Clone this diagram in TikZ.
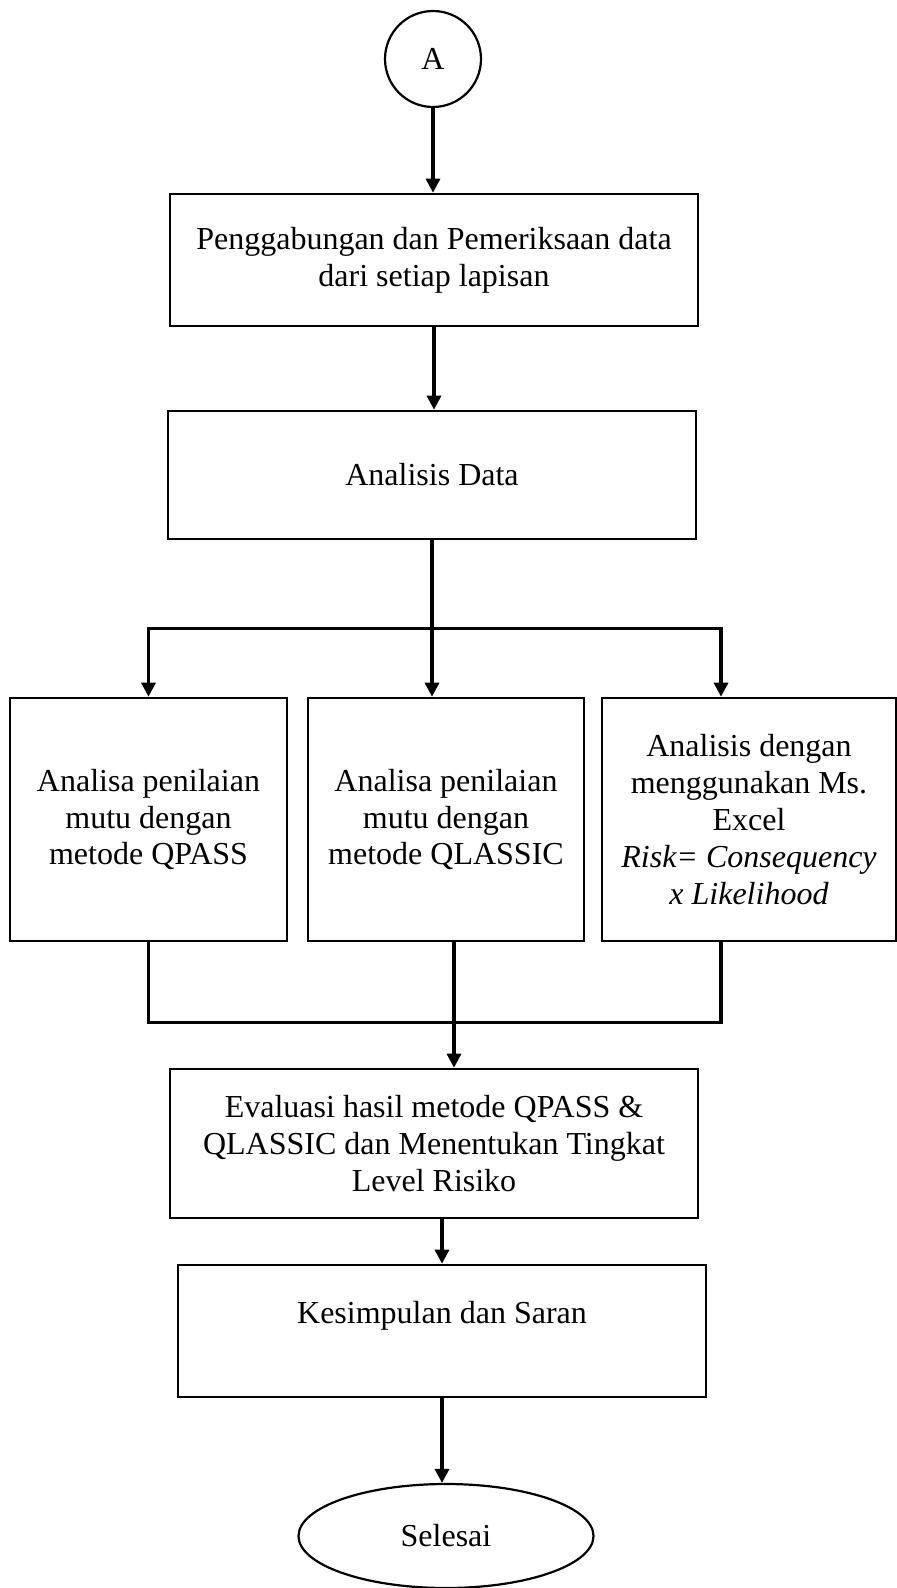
\documentclass[tikz,border=0pt]{standalone}
\usepackage{fontspec}
\setmainfont{Liberation Serif}
\usetikzlibrary{arrows.meta,positioning,calc,shapes.geometric}
\tikzset{
  flowbox/.style={draw,line width=1.3pt,rectangle,align=center,inner sep=0pt,
    font=\fontsize{16}{18.4}\selectfont},
  flowend/.style={draw,line width=1.1pt,ellipse,inner sep=0pt,
    font=\fontsize{16}{18.4}\selectfont},
  flowarr/.style={line width=1.6pt,-{Triangle[length=7pt,width=7pt]}},
  flowline/.style={line width=1.6pt}
}
\begin{document}
\begin{tikzpicture}[x=0.5pt,y=-0.5pt]
  \useasboundingbox (0,0) rectangle (897,1588);
  % connector
  \node[flowend,circle,minimum size=48pt] (A) at (433,59) {A};
  % top part
  \node[flowbox,minimum width=264pt,minimum height=66pt] (gabung) at (434,260)
      {Penggabungan dan Pemeriksaan data\\dari setiap lapisan};
  \node[flowbox,minimum width=264pt,minimum height=64pt] (analisis) at (432,475)
      {Analisis Data};
  % three methods
  \node[flowbox,minimum width=138.5pt,minimum height=121.5pt] (qpass) at (148.5,819.5)
      {Analisa penilaian\\mutu dengan\\metode QPASS};
  \node[flowbox,minimum width=138pt,minimum height=121.5pt] (qlassic) at (446,819.5)
      {Analisa penilaian\\mutu dengan\\metode QLASSIC};
  \node[flowbox,minimum width=147pt,minimum height=121.5pt] (excel) at (749,819.5)
      {Analisis dengan\\menggunakan Ms.\\Excel\\\textit{Risk= Consequency}\\\textit{x Likelihood}};
  % bottom part
  \node[flowbox,minimum width=264pt,minimum height=74.5pt] (evaluasi) at (434,1143.5)
      {Evaluasi hasil metode QPASS \&\\QLASSIC dan Menentukan Tingkat\\Level Risiko};
  \node[flowbox,minimum width=264pt,minimum height=66pt] (simpul) at (442,1331)
      {Kesimpulan dan Saran\\~};
  \node[flowend,minimum width=147.5pt,minimum height=52pt] (selesai) at (446,1536)
      {Selesai};
  % arrows
  \draw[flowarr] (A.south) -- (A.south |- gabung.north);
  \draw[flowarr] (gabung.south) -- (gabung.south |- analisis.north);
  \coordinate (split) at ($(analisis.south)+(0,88)$);
  \draw[flowline] (analisis.south) -- (split);
  \draw[flowarr] (split) -| (qpass.north);
  \draw[flowarr] (split) -| ([xshift=-14pt]excel.north);
  \draw[flowarr] (split) -- (split |- qlassic.north);
  \coordinate (merge) at ($([xshift=4pt]qlassic.south)+(0,80)$);
  \draw[flowline] (qpass.south) |- (merge) -| ([xshift=-14pt]excel.south);
  \draw[flowline] ([xshift=4pt]qlassic.south) -- (merge);
  \draw[flowarr] (merge) -- (merge |- evaluasi.north);
  \draw[flowarr] (simpul.north |- evaluasi.south) -- (simpul.north);
  \draw[flowarr] (simpul.south) -- (simpul.south |- selesai.north);
\end{tikzpicture}
\end{document}
